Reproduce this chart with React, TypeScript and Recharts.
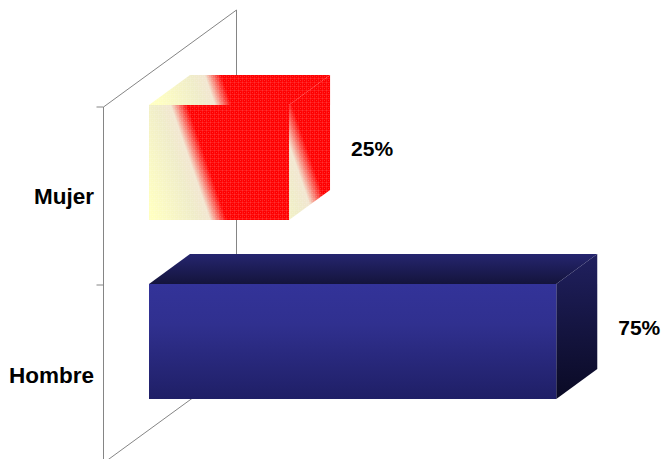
import React from 'react';
import { BarChart, Bar, XAxis, YAxis, LabelList } from 'recharts';

const categories = ['Mujer', 'Hombre'];
const percentages = [25, 75];

const chartData = categories.map((name, i) => ({ name, value: percentages[i] }));

const WIDTH = 662;
const HEIGHT = 459;
const DEPTH_X = 41;
const DEPTH_Y = 30;
const BAR_BASE = -1.2;
const FONT = '"Liberation Sans", Arial, sans-serif';

// corners of the 3d axis walls
const wallFront = 103.5;
const wallBack = 236.5;
const wallTop = 107;
const wallMid = 285;
const wallBottom = 463;
const wallRise = 97;

const Walls = () => (
  <g stroke="#858585" strokeWidth={1} fill="none">
    <line x1={wallFront} y1={wallTop} x2={wallFront} y2={wallBottom} />
    <line x1={wallBack} y1={wallTop - wallRise} x2={wallBack} y2={wallBottom - wallRise} />
    <line x1={wallFront} y1={wallTop} x2={wallBack} y2={wallTop - wallRise} />
    <line x1={wallFront} y1={wallBottom} x2={wallBack} y2={wallBottom - wallRise} />
    <line x1={wallFront - 7} y1={wallTop} x2={wallFront} y2={wallTop} />
    <line x1={wallFront - 7} y1={wallMid} x2={wallFront} y2={wallMid} />
  </g>
);

const Defs = () => (
  <defs>
    <linearGradient id="blueFront" x1="0" y1="0" x2="0" y2="1">
      <stop offset="0%" stopColor="#333399" />
      <stop offset="35%" stopColor="#30308f" />
      <stop offset="100%" stopColor="#1f1f66" />
    </linearGradient>
    <linearGradient id="blueTop" x1="0" y1="0" x2="0" y2="1">
      <stop offset="0%" stopColor="#25256f" />
      <stop offset="100%" stopColor="#14143c" />
    </linearGradient>
    <linearGradient id="blueSide" x1="0" y1="0" x2="0" y2="1">
      <stop offset="0%" stopColor="#20205f" />
      <stop offset="100%" stopColor="#0a0a24" />
    </linearGradient>
    <pattern id="dots" width={4} height={4} patternUnits="userSpaceOnUse">
      <rect x={0} y={2} width={4} height={1} fill="#ffffff" fillOpacity={0.1} />
      <rect x={2} y={0} width={1} height={4} fill="#ffffff" fillOpacity={0.1} />
      <rect x={0} y={0} width={1} height={1} fill="#ffffff" fillOpacity={0.18} />
    </pattern>
  </defs>
);

// cream to red band running across a face
const CreamGradient = ({ id, x1, y1, x2, y2 }: any) => (
  <linearGradient id={id} gradientUnits="userSpaceOnUse" x1={x1} y1={y1} x2={x2} y2={y2}>
    <stop offset="0%" stopColor="#ffffc0" />
    <stop offset="45%" stopColor="#efecc8" />
    <stop offset="60%" stopColor="#f2e6d0" />
    <stop offset="78%" stopColor="#ff0000" />
    <stop offset="100%" stopColor="#ff0000" />
  </linearGradient>
);

const Box3D = (props: any) => {
  const { x, y, width, height, index } = props;
  const right = x + width;
  const bottom = y + height;
  const topFace = `${x},${y} ${x + DEPTH_X},${y - DEPTH_Y} ${right + DEPTH_X},${y - DEPTH_Y} ${right},${y}`;
  const sideFace = `${right},${y} ${right + DEPTH_X},${y - DEPTH_Y} ${right + DEPTH_X},${bottom - DEPTH_Y} ${right},${bottom}`;

  if (index === 1) {
    return (
      <g>
        <polygon points={topFace} fill="url(#blueTop)" />
        <polygon points={sideFace} fill="url(#blueSide)" />
        <rect x={x} y={y} width={width} height={height} fill="url(#blueFront)" />
      </g>
    );
  }

  const span = 88;
  const dirX = 0.946;
  const dirY = -0.324;
  const grad = (px: number, py: number) => ({
    x1: px - (dirX * span) / 2,
    y1: py - (dirY * span) / 2,
    x2: px + (dirX * span) / 2,
    y2: py + (dirY * span) / 2,
  });
  return (
    <g>
      <defs>
        <CreamGradient id="creamFront" {...grad(x + 26, y + 40)} />
        <CreamGradient id="creamTop" {...grad(x + 48, y - 25)} />
        <CreamGradient id="creamSide" {...grad(right - 2, y + 61)} />
      </defs>
      <polygon points={topFace} fill="url(#creamTop)" />
      <polygon points={sideFace} fill="url(#creamSide)" />
      <rect x={x} y={y} width={width} height={height} fill="url(#creamFront)" />
      <polygon points={topFace} fill="url(#dots)" />
      <polygon points={sideFace} fill="url(#dots)" />
      <rect x={x} y={y} width={width} height={height} fill="url(#dots)" />
    </g>
  );
};

const CategoryTick = ({ y, payload }: any) => (
  <text x={94} y={y + 41} textAnchor="end" fontFamily={FONT} fontWeight="bold" fontSize={22.5} fill="#000000">
    {payload.value}
  </text>
);

const PercentLabel = ({ x, y, width, height, index }: any) => (
  <text x={x + width + 62} y={y + height / 2 - 7} fontFamily={FONT} fontWeight="bold" fontSize={21} fill="#000000">
    {`${percentages[index]}%`}
  </text>
);

const App = () => (
  <div style={{ position: 'absolute', left: 0, top: 0, width: WIDTH, height: HEIGHT, overflow: 'hidden', background: '#ffffff' }}>
    <BarChart
      width={WIDTH}
      height={HEIGHT}
      data={chartData}
      layout="vertical"
      margin={{ top: 73, right: 79, bottom: 28, left: 0 }}
      barCategoryGap={32}
    >
      <Defs />
      <Walls />
      <XAxis type="number" hide domain={[BAR_BASE, 80]} />
      <YAxis type="category" dataKey="name" width={149} axisLine={false} tickLine={false} tick={<CategoryTick />} />
      <Bar dataKey={(d: any) => [BAR_BASE, d.value]} shape={<Box3D />} isAnimationActive={false}>
        <LabelList dataKey="value" content={<PercentLabel />} />
      </Bar>
    </BarChart>
  </div>
);

export default App;
